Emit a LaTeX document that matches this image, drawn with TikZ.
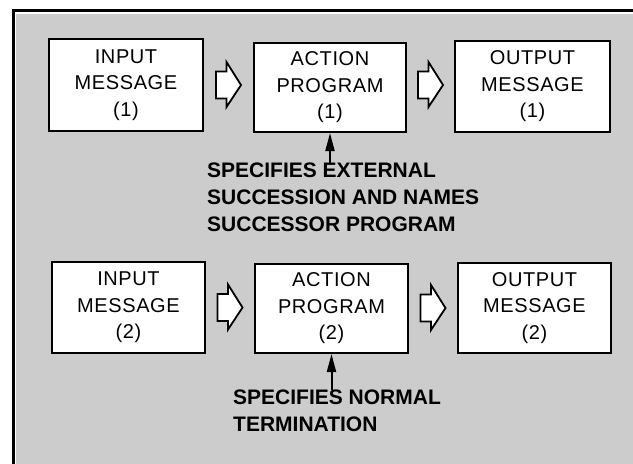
\documentclass[tikz,border=0pt]{standalone}
\usepackage{fontspec}
\setmainfont{Liberation Sans}
\newfontfamily\boxfont[LetterSpace=3]{Liberation Sans}
\usetikzlibrary{arrows.meta,calc}
\newcommand\blockarrow[1]{\draw[blockarr,shift={(#1)}] (-12.5,-13.5) -- (-2,-13.5) -- (-2,-23) -- (12.5,0) -- (-2,22) -- (-2,13.5) -- (-12.5,13.5) -- cycle;}
\begin{document}
\begin{tikzpicture}[x=1pt,y=-1pt,
  box/.style={draw=black,line width=2pt,fill=white,inner sep=0pt,align=center,
    font=\boxfont\fontsize{20}{26.5}\selectfont},
  blockarr/.style={draw=black,line width=1.8pt,fill=white,line join=miter},
  note/.style={align=left,inner sep=0pt,anchor=north west,
    font=\bfseries\fontsize{21}{27}\selectfont},
  uparr/.style={line width=2pt,-{Triangle[length=18pt,width=9pt]}}]
\useasboundingbox (0,0) rectangle (633,464);
\fill[black!20] (16,14) rectangle (633,464);
\draw[line width=2.6pt,line join=miter] (13.5,464) -- (13.5,10.5) -- (633,10.5);

% row 1
\node[box,minimum width=154pt,minimum height=92pt] (in1) at (126,85) {INPUT\\MESSAGE\\(1)};
\node[box,minimum width=152pt,minimum height=89pt] (act1) at (330,87.5) {ACTION\\PROGRAM\\(1)};
\node[box,minimum width=155pt,minimum height=91pt] (out1) at (532.5,86.5) {OUTPUT\\MESSAGE\\(1)};
\coordinate (a1) at ($(in1.east)!0.5!(act1.west |- in1.east)$);
\coordinate (a2) at ($(act1.east |- in1.east)!0.5!(out1.west |- in1.east)$);
\blockarrow{a1}
\blockarrow{a2}
\node[note] (n1) at (207,163) {SPECIFIES EXTERNAL\\SUCCESSION AND NAMES\\SUCCESSOR PROGRAM};
\draw[uparr] (act1.south |- n1.north) -- (act1.south);

% row 2
\node[box,minimum width=153pt,minimum height=91pt] (in2) at (128.5,307.5) {INPUT\\MESSAGE\\(2)};
\node[box,minimum width=153pt,minimum height=89pt] (act2) at (331.5,308.5) {ACTION\\PROGRAM\\(2)};
\node[box,minimum width=153pt,minimum height=90pt] (out2) at (534.5,308) {OUTPUT\\MESSAGE\\(2)};
\coordinate (b1) at ($(in2.east)!0.5!(act2.west |- in2.east)$);
\coordinate (b2) at ($(act2.east |- out2.west)!0.5!(out2.west)$);
\blockarrow{b1}
\blockarrow{b2}
\node[note] (n2) at (233,390) {SPECIFIES NORMAL\\TERMINATION};
\draw[uparr] (act2.south |- n2.north) -- (act2.south);
\end{tikzpicture}
\end{document}
